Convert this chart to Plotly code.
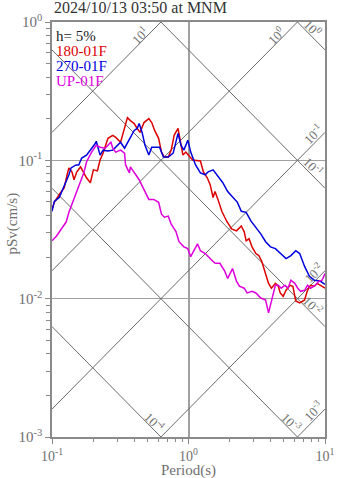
import numpy as np
import plotly.graph_objects as go

# ---------------- data (period in s, pseudo spectral velocity in cm/s) -------------
T_180 = [0.100, 0.104, 0.113, 0.123, 0.129, 0.133, 0.140, 0.145, 0.152, 0.162, 0.171, 0.179,
         0.191, 0.201, 0.215, 0.225, 0.237, 0.257, 0.279, 0.293, 0.318, 0.340, 0.357, 0.375,
         0.400, 0.421, 0.442, 0.472, 0.512, 0.538, 0.565, 0.604, 0.634, 0.666, 0.711, 0.747,
         0.785, 0.838, 0.881, 0.910, 0.956, 1.004, 1.072, 1.223, 1.285, 1.372, 1.441, 1.514,
         1.564, 1.643, 1.754, 1.905, 2.068, 2.245, 2.437, 2.560, 2.645, 2.779, 2.919, 3.117,
         3.275, 3.439, 3.673, 3.858, 4.053, 4.329, 4.548, 4.699, 4.936, 5.185, 5.537, 5.817,
         6.110, 6.525, 7.087, 7.445, 7.818, 8.350, 8.770, 9.212, 10.0]
SV_180 = [0.0443, 0.0497, 0.0566, 0.0635, 0.0786, 0.0882, 0.0826, 0.0724, 0.0826, 0.0896, 0.0812, 0.0748,
          0.0689, 0.0853, 0.0839, 0.1005, 0.1128, 0.1442, 0.1515, 0.1466, 0.1351, 0.1699, 0.2036, 0.1938,
          0.1845, 0.1699, 0.1592, 0.1875, 0.2002, 0.1875, 0.1645, 0.1442, 0.1147, 0.1056, 0.1056, 0.1185,
          0.1515, 0.1699, 0.1286, 0.1091, 0.1147, 0.1091, 0.1005, 0.0989, 0.0826, 0.0748, 0.0667, 0.0539,
          0.0595, 0.0522, 0.0428, 0.0363, 0.0319, 0.0309, 0.0335, 0.0304, 0.0262, 0.0271, 0.0237, 0.0212,
          0.0205, 0.0186, 0.0152, 0.0129, 0.0119, 0.0129, 0.0123, 0.0110, 0.0104, 0.0115, 0.0125, 0.0123,
          0.00962, 0.00931, 0.00978, 0.0115, 0.0125, 0.0123, 0.0129, 0.0125, 0.0119]

T_270 = [0.100, 0.104, 0.113, 0.123, 0.133, 0.138, 0.150, 0.157, 0.165, 0.179, 0.191, 0.208,
         0.211, 0.225, 0.237, 0.257, 0.279, 0.293, 0.318, 0.340, 0.357, 0.375, 0.400, 0.421,
         0.435, 0.457, 0.480, 0.512, 0.538, 0.565, 0.614, 0.655, 0.711, 0.772, 0.811, 0.838,
         0.881, 0.925, 0.988, 1.038, 1.126, 1.223, 1.327, 1.394, 1.514, 1.643, 1.784, 1.936,
         2.102, 2.282, 2.437, 2.645, 2.871, 3.117, 3.383, 3.673, 3.987, 4.329, 4.776, 5.185,
         5.628, 6.110, 6.525, 7.087, 7.691, 8.350, 9.212, 10.0]
SV_270 = [0.0428, 0.0505, 0.0539, 0.0646, 0.0786, 0.0882, 0.0926, 0.0926, 0.1039, 0.1091, 0.1185, 0.1329,
          0.1373, 0.1091, 0.1185, 0.1166, 0.1185, 0.1245, 0.1351, 0.1224, 0.1329, 0.1466, 0.1645, 0.1699,
          0.1845, 0.1592, 0.1286, 0.1091, 0.1245, 0.1245, 0.1245, 0.1056, 0.1056, 0.1128, 0.1351, 0.1566,
          0.1286, 0.1185, 0.1396, 0.1147, 0.0926, 0.0812, 0.0786, 0.0826, 0.0853, 0.0761, 0.0689, 0.0595,
          0.0548, 0.0497, 0.0428, 0.0421, 0.0363, 0.0329, 0.0294, 0.0258, 0.0237, 0.0230, 0.0212, 0.0195,
          0.0205, 0.0222, 0.0212, 0.0171, 0.0145, 0.0136, 0.0134, 0.0127]

T_UP = [0.100, 0.108, 0.117, 0.127, 0.133, 0.145, 0.157, 0.171, 0.179, 0.195, 0.211, 0.225,
        0.245, 0.257, 0.270, 0.279, 0.293, 0.318, 0.340, 0.346, 0.369, 0.375, 0.400, 0.435,
        0.472, 0.512, 0.556, 0.604, 0.634, 0.666, 0.711, 0.747, 0.811, 0.852, 0.925, 0.988,
        1.038, 1.090, 1.164, 1.223, 1.327, 1.441, 1.564, 1.698, 1.843, 1.936, 2.102, 2.245,
        2.358, 2.560, 2.689, 2.919, 3.117, 3.383, 3.673, 3.858, 4.053, 4.329, 4.548, 4.776,
        5.101, 5.358, 5.628, 6.011, 6.315, 6.633, 7.087, 7.445, 7.818, 8.350, 9.063, 9.519, 10.0]
SV_UP = [0.0262, 0.0284, 0.0319, 0.0358, 0.0421, 0.0522, 0.0635, 0.0812, 0.0973, 0.1147, 0.1286, 0.1245,
         0.1224, 0.1286, 0.1351, 0.1224, 0.1147, 0.1185, 0.1128, 0.0926, 0.0812, 0.0896, 0.0812, 0.0724,
         0.0614, 0.0522, 0.0522, 0.0497, 0.0408, 0.0388, 0.0395, 0.0346, 0.0304, 0.0258, 0.0237, 0.0230,
         0.0201, 0.0222, 0.0249, 0.0222, 0.0212, 0.0195, 0.0180, 0.0180, 0.0158, 0.0140, 0.0165, 0.0134,
         0.0123, 0.0119, 0.0110, 0.0113, 0.0110, 0.0101, 0.00978, 0.00790, 0.00962, 0.0125, 0.0125, 0.0119,
         0.0125, 0.0119, 0.0136, 0.0129, 0.0119, 0.0113, 0.0115, 0.0125, 0.0119, 0.0123, 0.0134, 0.0136, 0.0152]

series_names = ["180-01F", "270-01F", "UP-01F"]
series_colors = ["#dd0000", "#0000dd", "#dd00dd"]
damping_label = "h= 5%"
title_text = "2024/10/13 03:50 at MNM"

# tripartite reference levels
SA_levels = [1e-3, 1e-2, 1e-1, 1e0, 1e1]      # acceleration, cm/s^2
SD_levels = [1e-4, 1e-3, 1e-2, 1e-1, 1e0]     # displacement, cm
SA_labels = ["10<sup>-3</sup>", "10<sup>-2</sup>", "10<sup>-1</sup>", "10<sup>0</sup>", "10<sup>1</sup>"]
SD_labels = ["10<sup>-4</sup>", "10<sup>-3</sup>", "10<sup>-2</sup>", "10<sup>-1</sup>", "10<sup>0</sup>"]

x_ticks = [0.1, 1, 10]
x_ticktext = ["10<sup>-1</sup>", "10<sup>0</sup>", "10<sup>1</sup>"]
y_ticks = [0.001, 0.01, 0.1, 1]
y_ticktext = ["10<sup>-3</sup>", "10<sup>-2</sup>", "10<sup>-1</sup>", "10<sup>0</sup>"]

TMIN, TMAX = 0.1, 10.0
VMIN, VMAX = 1e-3, 1.0

FONT = "Liberation Serif"
GRAY = "#8a8a8a"
LINEGRAY = "#6a6a6a"
TXTGRAY = "#707070"

fig = go.Figure()
annotations = []

# constant-acceleration lines (slope +1)
for sa, lab in zip(SA_levels, SA_labels):
    t0 = max(TMIN, 2 * np.pi * VMIN / sa)
    t1 = min(TMAX, 2 * np.pi * VMAX / sa)
    v0 = sa * t0 / (2 * np.pi)
    v1 = sa * t1 / (2 * np.pi)
    fig.add_trace(go.Scatter(x=[t0, t1], y=[v0, v1], mode="lines",
                             line=dict(color=LINEGRAY, width=1), hoverinfo="skip", showlegend=False))
    if t1 >= TMAX * 0.999:
        xs, ys = -12, -2
    else:
        xs, ys = -21, -13
    annotations.append(dict(x=np.log10(t1), y=np.log10(v1), xref="x", yref="y", text=lab,
                            showarrow=False, textangle=-45, xshift=xs, yshift=ys,
                            font=dict(family=FONT, size=13, color=TXTGRAY)))

# constant-displacement lines (slope -1)
for sd, lab in zip(SD_levels, SD_labels):
    t0 = max(TMIN, 2 * np.pi * sd / VMAX)
    t1 = min(TMAX, 2 * np.pi * sd / VMIN)
    v0 = 2 * np.pi * sd / t0
    v1 = 2 * np.pi * sd / t1
    fig.add_trace(go.Scatter(x=[t0, t1], y=[v0, v1], mode="lines",
                             line=dict(color=LINEGRAY, width=1), hoverinfo="skip", showlegend=False))
    if t1 >= TMAX * 0.999:
        xs, ys = -12, 22
    else:
        xs, ys = -6, 15
    annotations.append(dict(x=np.log10(t1), y=np.log10(v1), xref="x", yref="y", text=lab,
                            showarrow=False, textangle=45, xshift=xs, yshift=ys,
                            font=dict(family=FONT, size=13, color=TXTGRAY)))

# spectra
for T, SV, name, col in zip([T_180, T_270, T_UP], [SV_180, SV_270, SV_UP], series_names, series_colors):
    fig.add_trace(go.Scatter(x=T, y=SV, mode="lines", name=name,
                             line=dict(color=col, width=1.5), showlegend=False))

# legend-like text block
legend_items = [(damping_label, "#222222")] + list(zip(series_names, series_colors))
for i, (txt, col) in enumerate(legend_items):
    annotations.append(dict(x=0, y=1, xref="paper", yref="paper", xanchor="left", yanchor="middle",
                            xshift=3, yshift=-(14 + 15 * i), text=txt, showarrow=False,
                            borderpad=0,
                            font=dict(family=FONT, size=15, color=col)))

# title
annotations.append(dict(x=0, y=1, xref="paper", yref="paper", xanchor="left", yanchor="bottom",
                        yshift=4, text=title_text, showarrow=False,
                        font=dict(family=FONT, size=16, color="#333333")))
# axis titles
annotations.append(dict(x=0.5, y=0, xref="paper", yref="paper", xanchor="center", yanchor="middle",
                        yshift=-33, text="Period(s)", showarrow=False, borderpad=0,
                        font=dict(family=FONT, size=15, color=TXTGRAY)))
annotations.append(dict(x=0, y=0.5, xref="paper", yref="paper", xanchor="center", yanchor="middle",
                        xshift=-40, yshift=6, text="pSv(cm/s)", textangle=-90, showarrow=False,
                        font=dict(family=FONT, size=15, color=TXTGRAY)))

minor_x = [m * 10.0 ** e for e in (-1, 0) for m in range(2, 10)]
minor_y = [m * 10.0 ** e for e in (-3, -2, -1) for m in range(2, 10)]

fig.update_layout(
    width=347, height=478,
    margin=dict(l=52, r=14, t=15, b=41),
    paper_bgcolor="white", plot_bgcolor="white",
    annotations=annotations,
    showlegend=False,
    xaxis=dict(type="log", range=[-1, 1], tickmode="array", tickvals=x_ticks, ticktext=x_ticktext,
               ticks="outside", ticklen=5, tickcolor=GRAY, tickwidth=1,
               showline=True, linecolor=GRAY, linewidth=1.5, mirror=True,
               showgrid=True, gridcolor="#a0a0a0", gridwidth=1.5, zeroline=False,
               tickfont=dict(family=FONT, size=14, color=TXTGRAY),
               minor=dict(tickmode="array", tickvals=minor_x, ticks="outside", ticklen=3,
                          tickcolor=GRAY, showgrid=False)),
    yaxis=dict(type="log", range=[-3, 0], tickmode="array", tickvals=y_ticks, ticktext=y_ticktext,
               ticks="outside", ticklen=5, tickcolor=GRAY, tickwidth=1,
               showline=True, linecolor=GRAY, linewidth=1.5, mirror=True,
               showgrid=True, gridcolor="#a0a0a0", gridwidth=1.2, zeroline=False,
               tickfont=dict(family=FONT, size=15, color=TXTGRAY),
               minor=dict(tickmode="array", tickvals=minor_y, ticks="outside", ticklen=4,
                          tickcolor=GRAY, showgrid=False)),
)

fig.write_html("out.html")
